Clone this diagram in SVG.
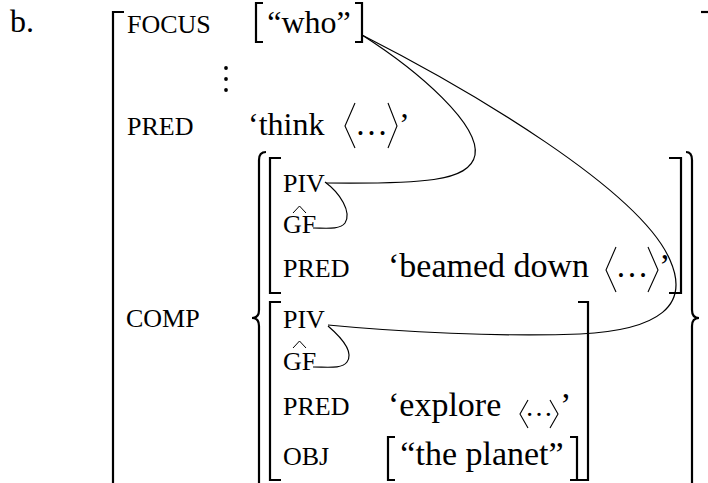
<svg xmlns="http://www.w3.org/2000/svg" width="708" height="483" viewBox="0 0 708 483">
  <style>
    text { font-family: "Liberation Serif", "Times New Roman", serif; fill: #000; }
    .lab { font-size: 26px; }
    .val { font-size: 32px; }
    .val2 { font-size: 34px; }
    .brk { fill: none; stroke: #000; stroke-width: 2.2; stroke-linecap: butt; stroke-linejoin: miter; }
    .ang { fill: none; stroke: #000; stroke-width: 1.1; stroke-linejoin: miter; }
    .hat { fill: none; stroke: #000; stroke-width: 1; }
    .link { fill: none; stroke: #000; stroke-width: 1.2; }
  </style>

  <!-- example number -->
  <g id="ex-label">
    <text class="val" x="10" y="32">b.</text>
  </g>

  <!-- outermost f-structure bracket -->
  <g id="outer-fs">
    <path class="brk" d="M124,12 H113 V490"/>
    <path class="brk" d="M701,12 H710"/>
  </g>

  <!-- FOCUS row -->
  <g id="focus">
    <text class="lab" x="127" y="33">FOCUS</text>
    <path class="brk" d="M263,3 H256 V42 H263"/>
    <text class="val" x="309" y="33" text-anchor="middle">“who”</text>
    <path class="brk" d="M355,3 H362 V42 H355"/>
  </g>

  <!-- vertical ellipsis -->
  <g id="vdots">
    <circle cx="226" cy="68" r="1.9"/>
    <circle cx="226" cy="79" r="1.9"/>
    <circle cx="226" cy="90" r="1.9"/>
  </g>

  <!-- PRED row of the main clause -->
  <g id="pred-think">
    <text class="lab" x="127" y="135">PRED</text>
    <text class="val" x="248" y="135">‘think</text>
    <path class="ang" d="M355,103 L345,126 L355,148"/>
    <text class="val" x="371.5" y="135" text-anchor="middle" style="font-size:33px">…</text>
    <path class="ang" d="M388,103 L397,126 L388,148"/>
    <text class="val" x="399" y="135">’</text>
  </g>

  <!-- COMP: set of two f-structures -->
  <g id="comp">
    <text class="lab" x="126" y="327">COMP</text>
    <path class="brk" d="M266,152 Q259,152 259,160 L259,310 Q259,318 252,318 Q259,318 259,326 L259,490"/>
    <path class="brk" d="M686,152 Q692,152 692,160 L692,310 Q692,318 699,318 Q692,318 692,326 L692,490"/>
  </g>

  <!-- first conjunct: beamed down -->
  <g id="fs-beamed">
    <path class="brk" d="M281,158 H270 V293 H281"/>
    <path class="brk" d="M669,158 H681 V293 H669"/>
    <text class="lab" x="283" y="192">PIV</text>
    <text class="lab" x="283" y="233">GF</text>
    <path class="hat" d="M293,213 L299.5,206 L306,213"/>
    <text class="lab" x="283" y="277">PRED</text>
    <text class="val2" x="388" y="277">‘beamed down</text>
    <path class="ang" d="M616,247 L606,270 L616,292"/>
    <text class="val" x="632" y="277" text-anchor="middle" style="font-size:33px">…</text>
    <path class="ang" d="M648,247 L658,270 L648,292"/>
    <text class="val2" x="659" y="277">’</text>
  </g>

  <!-- second conjunct: explore -->
  <g id="fs-explore">
    <path class="brk" d="M281,302 H270 V480 H281"/>
    <path class="brk" d="M578,302 H588 V480 H578"/>
    <text class="lab" x="283" y="328">PIV</text>
    <text class="lab" x="283" y="370">GF</text>
    <path class="hat" d="M293,348 L299.5,341 L306,348"/>
    <text class="lab" x="283" y="415">PRED</text>
    <text class="val2" x="388" y="416">‘explore</text>
    <path class="ang" d="M528,400 L520,414 L528,428"/>
    <text class="val" x="539" y="416" text-anchor="middle" style="font-size:28px">…</text>
    <path class="ang" d="M550,400 L558,414 L550,428"/>
    <text class="val2" x="560" y="416">’</text>
    <text class="lab" x="283" y="465">OBJ</text>
    <path class="brk" d="M395,437 H388 V480 H395"/>
    <text class="val2" x="482" y="465" text-anchor="middle">“the planet”</text>
    <path class="brk" d="M570,437 H577 V480 H570"/>
  </g>

  <!-- structure-sharing links -->
  <g id="connectors">
    <path class="link" d="M362,35 C420,72 480,125 475,155 C470,182 420,184 326,183"/>
    <path class="link" d="M362,35 C470,90 640,190 670,260 C690,305 660,330 580,334 C500,337 400,332 328,325"/>
    <path class="link" d="M325,182 C340,193 352,212 345,223 C340,230 325,228 313,228"/>
    <path class="link" d="M328,326 C342,338 354,352 347,362 C342,369 328,367 313,367"/>
  </g>
</svg>
